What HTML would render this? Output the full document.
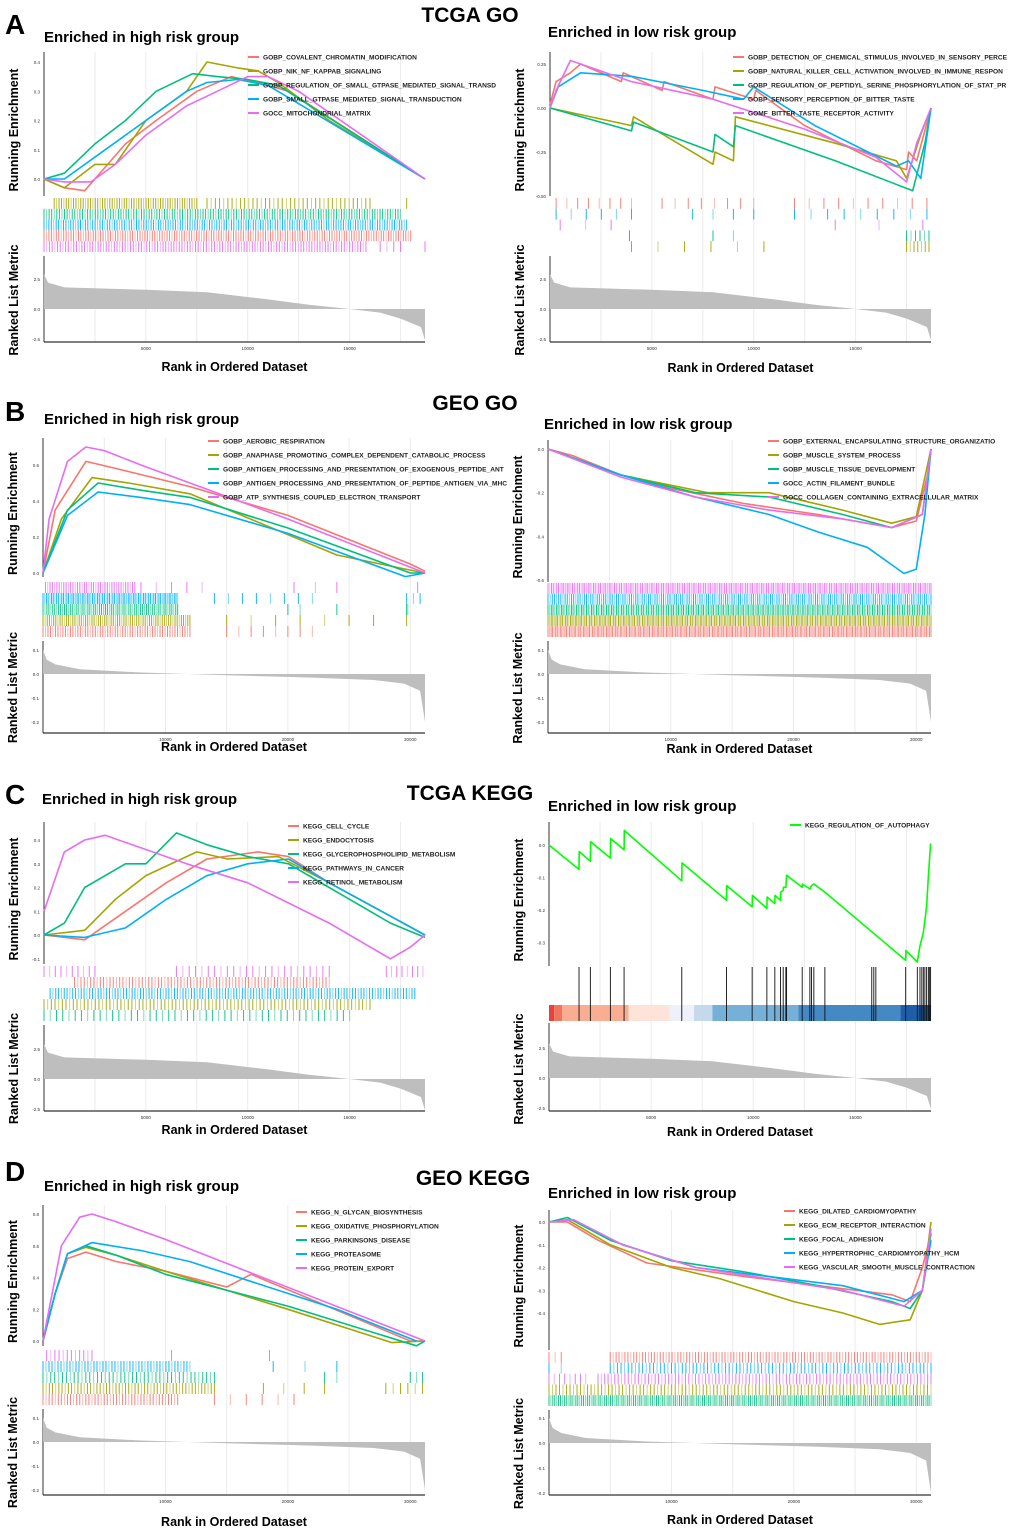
<!DOCTYPE html>
<html><head><meta charset="utf-8"><style>
html,body{margin:0;padding:0;background:#fff}
svg{display:block;font-family:"Liberation Sans",Arial,sans-serif}
</style></head><body>
<svg id="fig" width="1020" height="1530" viewBox="0 0 1020 1530" xmlns="http://www.w3.org/2000/svg">
<text x="5" y="34" font-size="28" font-weight="bold">A</text>
<text x="470" y="22" font-size="21" font-weight="bold" text-anchor="middle">TCGA GO</text>
<text x="5" y="421" font-size="28" font-weight="bold">B</text>
<text x="475" y="410" font-size="21" font-weight="bold" text-anchor="middle">GEO GO</text>
<text x="5" y="804" font-size="28" font-weight="bold">C</text>
<text x="470" y="800" font-size="21" font-weight="bold" text-anchor="middle">TCGA KEGG</text>
<text x="5" y="1181" font-size="28" font-weight="bold">D</text>
<text x="473" y="1185" font-size="21" font-weight="bold" text-anchor="middle">GEO KEGG</text>
</svg>
<script>
const COLORS={r:'#F8766D',o:'#A3A500',g:'#00BF7D',b:'#00B0F6',m:'#E76BF3',L:'#00FF00'};
// ---- ranked list metric data ----
const TCGA_metric=[[0,2.9],[200,2.2],[1000,1.8],[5000,1.6],[8000,1.4],[11000,0.8],[13000,0.35],[15000,0],[16500,-0.3],[17500,-0.8],[18500,-1.5],[18700,-2.6]];
const GEO_metric=[[0,0.1],[300,0.06],[1000,0.04],[3000,0.02],[8000,0.006],[15000,-0.005],[22000,-0.015],[27000,-0.025],[29500,-0.04],[30800,-0.07],[31200,-0.2]];
const TCGA_xticks=[5000,10000,15000];
const GEO_xticks=[10000,20000,30000];
// ---- A left ----
const A1_names=['GOBP_COVALENT_CHROMATIN_MODIFICATION','GOBP_NIK_NF_KAPPAB_SIGNALING','GOBP_REGULATION_OF_SMALL_GTPASE_MEDIATED_SIGNAL_TRANSD','GOBP_SMALL_GTPASE_MEDIATED_SIGNAL_TRANSDUCTION','GOCC_MITOCHONDRIAL_MATRIX'];
const A1_cols=['r','o','g','b','m'];
const A1_es=[
[[0,0],[1000,-0.03],[2000,-0.04],[2500,0],[4000,0.12],[5500,0.2],[7500,0.3],[9200,0.35],[10500,0.33],[12000,0.3],[18700,0]],
[[0,0],[1000,-0.03],[2500,0.05],[3500,0.05],[5000,0.2],[7000,0.3],[8000,0.4],[9500,0.38],[10500,0.37],[11500,0.33],[14000,0.2],[18700,0]],
[[0,0],[1000,0.02],[2500,0.12],[4000,0.2],[5500,0.3],[7300,0.36],[8500,0.35],[10000,0.34],[11500,0.32],[18700,0]],
[[0,0],[1000,0],[3000,0.1],[5000,0.2],[7000,0.3],[8000,0.33],[9500,0.34],[11000,0.32],[18700,0]],
[[0,0],[1000,-0.01],[2300,-0.01],[3500,0.05],[5000,0.15],[7000,0.25],[8500,0.3],[10000,0.35],[11000,0.35],[12500,0.3],[18700,0]]];
const A1_rows=['o','g','b','r','m'];
const A1_hits=[[[500,7500,60],[8000,16000,40],[17800,17800,1]],[[0,17500,140]],[[0,17800,150]],[[0,18000,150]],[[0,15800,120],[16500,17500,4],[18700,18700,1]]];
// ---- A right ----
const A2_names=['GOBP_DETECTION_OF_CHEMICAL_STIMULUS_INVOLVED_IN_SENSORY_PERCE','GOBP_NATURAL_KILLER_CELL_ACTIVATION_INVOLVED_IN_IMMUNE_RESPON','GOBP_REGULATION_OF_PEPTIDYL_SERINE_PHOSPHORYLATION_OF_STAT_PR','GOBP_SENSORY_PERCEPTION_OF_BITTER_TASTE','GOMF_BITTER_TASTE_RECEPTOR_ACTIVITY'];
const A2_cols=['r','o','g','b','m'];
const A2_es=[
[[0,0.02],[300,0.15],[1000,0.2],[1500,0.25],[3500,0.15],[3600,0.2],[5500,0.1],[5600,0.15],[8000,0.05],[8100,0.12],[10000,0.05],[10100,0.1],[12500,-0.1],[16000,-0.3],[17500,-0.35],[17600,-0.25],[18000,-0.3],[18700,0]],
[[0,0],[4000,-0.1],[4100,-0.05],[8000,-0.32],[8100,-0.25],[9000,-0.3],[9100,-0.05],[14000,-0.2],[17000,-0.3],[17500,-0.4],[18200,-0.15],[18700,0]],
[[0,0],[4000,-0.13],[4100,-0.08],[8000,-0.25],[8100,-0.15],[9000,-0.22],[9100,-0.1],[14000,-0.3],[17800,-0.47],[18400,-0.2],[18700,0]],
[[0,0],[400,0.12],[1500,0.2],[4000,0.18],[7500,0.1],[9500,0.05],[10000,0.12],[13000,-0.1],[17000,-0.33],[17600,-0.3],[18200,-0.4],[18700,0]],
[[0,0],[300,0.1],[1000,0.27],[4000,0.15],[8000,0.05],[12500,-0.12],[16000,-0.28],[17500,-0.42],[18000,-0.2],[18700,0]]];
const A2_rows=['r','b','m','g','o'];
const A2_hits=[[[300,4000,8],[5500,10000,8],[12000,18500,10]],[[300,4000,6],[7000,10000,4],[12000,18500,9]],[[500,3000,3],[14000,18300,3]],[[3900,3900,1],[8000,9000,2],[17500,18600,6]],[[4000,10500,6],[17500,18600,7]]];
// ---- B left ----
const B1_names=['GOBP_AEROBIC_RESPIRATION','GOBP_ANAPHASE_PROMOTING_COMPLEX_DEPENDENT_CATABOLIC_PROCESS','GOBP_ANTIGEN_PROCESSING_AND_PRESENTATION_OF_EXOGENOUS_PEPTIDE_ANT','GOBP_ANTIGEN_PROCESSING_AND_PRESENTATION_OF_PEPTIDE_ANTIGEN_VIA_MHC','GOBP_ATP_SYNTHESIS_COUPLED_ELECTRON_TRANSPORT'];
const B1_cols=['r','o','g','b','m'];
const B1_es=[
[[0,0],[1000,0.35],[3500,0.62],[6000,0.58],[12000,0.48],[20000,0.32],[30000,0.05],[31200,0.01]],
[[0,0],[1500,0.3],[4000,0.53],[7000,0.5],[12000,0.44],[24000,0.1],[29700,0.02],[31200,0]],
[[0,0],[2000,0.35],[4500,0.5],[8000,0.46],[12000,0.42],[20000,0.25],[30000,0.0],[31200,0]],
[[0,0],[2000,0.32],[4500,0.45],[8000,0.42],[12000,0.38],[20000,0.22],[29600,-0.02],[31200,0]],
[[0,0],[500,0.3],[2000,0.62],[3500,0.7],[5000,0.68],[8000,0.6],[12000,0.5],[20000,0.3],[31200,0]]];
const B1_rows=['m','b','g','o','r'];
const B1_hits=[[[200,7500,40],[8000,13000,5],[20500,24000,3],[30600,30600,1]],[[0,11000,80],[14000,22000,8],[29700,30800,3]],[[0,11000,70],[20000,21000,2],[24000,24000,1],[29700,29800,2]],[[0,12000,70],[15000,27000,7],[29700,29700,1]],[[0,12000,60],[15000,22000,8]]];
// ---- B right ----
const B2_names=['GOBP_EXTERNAL_ENCAPSULATING_STRUCTURE_ORGANIZATIO','GOBP_MUSCLE_SYSTEM_PROCESS','GOBP_MUSCLE_TISSUE_DEVELOPMENT','GOCC_ACTIN_FILAMENT_BUNDLE','GOCC_COLLAGEN_CONTAINING_EXTRACELLULAR_MATRIX'];
const B2_cols=['r','o','g','b','m'];
const B2_es=[
[[0,0],[2000,-0.03],[6000,-0.12],[10000,-0.18],[16000,-0.25],[22000,-0.3],[28000,-0.36],[30000,-0.33],[31000,-0.1],[31200,0]],
[[0,0],[6000,-0.12],[13000,-0.2],[18000,-0.2],[24000,-0.28],[28000,-0.34],[30000,-0.31],[31200,0]],
[[0,0],[6000,-0.12],[12000,-0.2],[18000,-0.22],[24000,-0.3],[28000,-0.36],[30500,-0.3],[31200,0]],
[[0,0],[6000,-0.12],[12000,-0.22],[18000,-0.3],[22000,-0.38],[26000,-0.45],[29000,-0.57],[30000,-0.55],[30700,-0.3],[31200,0]],
[[0,0],[6000,-0.13],[12000,-0.22],[18000,-0.28],[24000,-0.32],[28000,-0.36],[30500,-0.3],[31200,0]]];
const B2_rows=['m','b','g','o','r'];
const B2_hits=[[[0,31200,220]],[[0,31200,180]],[[0,31200,230]],[[0,31200,240]],[[0,31200,250]]];
// ---- C left ----
const C1_names=['KEGG_CELL_CYCLE','KEGG_ENDOCYTOSIS','KEGG_GLYCEROPHOSPHOLIPID_METABOLISM','KEGG_PATHWAYS_IN_CANCER','KEGG_RETINOL_METABOLISM'];
const C1_cols=['r','o','g','b','m'];
const C1_es=[
[[0,0],[2000,-0.02],[4000,0.1],[6000,0.22],[8000,0.32],[10500,0.35],[12000,0.33],[14000,0.22],[18700,0]],
[[0,0],[2000,0.02],[3500,0.15],[5000,0.25],[7500,0.35],[9000,0.32],[11500,0.33],[14000,0.22],[18700,0]],
[[0,0],[1000,0.05],[2000,0.2],[4000,0.3],[5000,0.3],[6500,0.43],[8000,0.38],[10000,0.33],[12000,0.3],[14000,0.2],[17000,0.05],[18700,-0.01]],
[[0,0],[2000,-0.01],[4000,0.03],[6000,0.15],[8000,0.25],[10000,0.3],[12000,0.32],[14000,0.22],[18700,0]],
[[0,0.1],[1000,0.35],[2000,0.4],[3000,0.42],[7000,0.3],[10000,0.22],[14000,0.05],[17000,-0.1],[18000,-0.05],[18700,0]]];
const C1_rows=['m','r','b','o','g'];
const C1_hits=[[[0,2500,10],[6500,14000,25],[16800,18600,8]],[[1500,14000,80]],[[300,18200,130]],[[0,16000,90]],[[0,15000,50]]];
// ---- C right ----
const C2_names=['KEGG_REGULATION_OF_AUTOPHAGY'];
const C2_cols=['L'];
const C2_es=[[[0,0],[1470,-0.075],[1480,-0.02],[2025,-0.05],[2035,0.01],[3005,-0.04],[3015,0.02],[3675,-0.015],[3685,0.045],[6500,-0.11],[6510,-0.055],[8690,-0.17],[8700,-0.125],[9945,-0.19],[9955,-0.155],[10665,-0.195],[10675,-0.16],[11055,-0.18],[11065,-0.155],[11335,-0.17],[11345,-0.145],[11465,-0.14],[11475,-0.13],[11595,-0.13],[11630,-0.093],[12395,-0.13],[12405,-0.12],[12770,-0.135],[12850,-0.125],[12965,-0.12],[13505,-0.145],[17460,-0.355],[17470,-0.325],[18030,-0.36],[18160,-0.31],[18325,-0.27],[18485,-0.19],[18570,-0.1],[18620,-0.05],[18680,0.005]]];
const C2_hitranks=[1470,2025,3005,3675,6500,8690,9945,10665,11055,11335,11465,11595,11630,12395,12770,12850,12965,13505,15800,15900,16000,17460,18030,18160,18250,18325,18400,18485,18570,18620,18680];
const C2_heat=[[0,250,'#e8423a'],[250,650,'#f07560'],[650,3900,'#f9ad92'],[3900,5900,'#fde3d8'],[5900,7100,'#eef1f9'],[7100,8000,'#c5d9eb'],[8000,12200,'#76b0d9'],[12200,17200,'#4488c4'],[17200,18700,'#1e5ea8']];
// ---- D left ----
const D1_names=['KEGG_N_GLYCAN_BIOSYNTHESIS','KEGG_OXIDATIVE_PHOSPHORYLATION','KEGG_PARKINSONS_DISEASE','KEGG_PROTEASOME','KEGG_PROTEIN_EXPORT'];
const D1_cols=['r','o','g','b','m'];
const D1_es=[
[[0,0],[1000,0.3],[2000,0.52],[3500,0.56],[6000,0.5],[10000,0.44],[15000,0.34],[17000,0.42],[30000,0.0],[31200,0]],
[[0,0],[1000,0.3],[2000,0.55],[3500,0.59],[6000,0.54],[10000,0.44],[20000,0.2],[28500,-0.01],[31200,0]],
[[0,0],[1000,0.3],[2000,0.55],[3500,0.6],[6000,0.54],[10000,0.42],[20000,0.22],[30500,-0.03],[31200,0]],
[[0,0],[1000,0.3],[2000,0.55],[4000,0.62],[8000,0.57],[12000,0.5],[24000,0.2],[30500,0.0]],
[[0,0],[500,0.2],[1500,0.6],[3000,0.78],[4000,0.8],[6000,0.75],[10000,0.64],[31200,0]]];
const D1_rows=['m','b','g','o','r'];
const D1_hits=[[[300,4000,12],[10500,10500,1],[18500,18500,1]],[[0,12000,50],[18800,24000,3]],[[0,14000,45],[23000,24000,2],[30000,31000,3]],[[0,14000,55],[18000,23000,4],[28000,31000,6]],[[0,11000,45],[14000,20500,6]]];
// ---- D right ----
const D2_names=['KEGG_DILATED_CARDIOMYOPATHY','KEGG_ECM_RECEPTOR_INTERACTION','KEGG_FOCAL_ADHESION','KEGG_HYPERTROPHIC_CARDIOMYOPATHY_HCM','KEGG_VASCULAR_SMOOTH_MUSCLE_CONTRACTION'];
const D2_cols=['r','o','g','b','m'];
const D2_es=[
[[0,0],[1500,0.0],[4000,-0.08],[8000,-0.18],[12000,-0.21],[16000,-0.24],[22000,-0.28],[28000,-0.32],[29500,-0.35],[30500,-0.2],[31200,-0.05]],
[[0,0],[1500,0.01],[5000,-0.1],[10000,-0.2],[14000,-0.25],[20000,-0.35],[24000,-0.4],[27000,-0.45],[29500,-0.43],[30500,-0.3],[31200,0]],
[[0,0],[1500,0.02],[5000,-0.08],[10000,-0.17],[16000,-0.22],[22000,-0.28],[28000,-0.35],[29500,-0.38],[30500,-0.3],[31200,-0.05]],
[[0,0],[2000,0.01],[6000,-0.1],[12000,-0.2],[18000,-0.24],[24000,-0.28],[29000,-0.35],[30500,-0.3],[31200,-0.08]],
[[0,0],[2000,0.01],[6000,-0.1],[12000,-0.2],[18000,-0.25],[24000,-0.3],[29000,-0.37],[30500,-0.3],[31200,-0.03]]];
const D2_rows=['r','b','m','o','g'];
const D2_hits=[[[0,1000,3],[5000,31200,110]],[[0,1000,2],[5000,31200,90]],[[0,3000,8],[4000,31200,100]],[[0,31200,110]],[[0,31200,200]]];

// ---- layout (pixel geometry, not data) ----
const PANELS=[
 {id:'a-high',x0:44,x1:425,max:18700,title:'Enriched in high risk group',ty:42,tx:44,esTop:52,esBot:196,es:[0,179,0.4,62],esT:[0,0.1,0.2,0.3,0.4],hitTop:198,hitH:10.8,rkBot:342,rk:[0,309,2.5,279],rkT:[2.5,0,-2.5],xt:TCGA_xticks,xlab:371,leg:[248,57],names:A1_names,cols:A1_cols,esd:A1_es,rows:A1_rows,hits:A1_hits,metric:TCGA_metric,dec:1},
 {id:'a-low',x0:550,x1:931,max:18700,title:'Enriched in low risk group',ty:37,tx:548,esTop:52,esBot:196,es:[0.25,64,-0.5,196],esT:[0.25,0,-0.25,-0.5],hitTop:198,hitH:10.8,rkBot:342,rk:[0,309,2.5,279],rkT:[2.5,0,-2.5],xt:TCGA_xticks,xlab:372,leg:[733,57],names:A2_names,cols:A2_cols,esd:A2_es,rows:A2_rows,hits:A2_hits,metric:TCGA_metric,dec:2},
 {id:'b-high',x0:43,x1:425,max:31200,title:'Enriched in high risk group',ty:424,tx:44,esTop:438,esBot:577,es:[0,573,0.6,465],esT:[0,0.2,0.4,0.6],hitTop:582,hitH:11,rkBot:733,rk:[0,674,0.1,650],rkT:[0.1,0,-0.1,-0.2],xt:GEO_xticks,xlab:751,leg:[208,441],names:B1_names,cols:B1_cols,esd:B1_es,rows:B1_rows,hits:B1_hits,metric:GEO_metric,dec:1},
 {id:'b-low',x0:548,x1:931,max:31200,title:'Enriched in low risk group',ty:429,tx:544,esTop:440,esBot:582,es:[0,449,-0.6,580],esT:[0,-0.2,-0.4,-0.6],hitTop:583,hitH:10.8,rkBot:733,rk:[0,674,0.1,650],rkT:[0.1,0,-0.1,-0.2],xt:GEO_xticks,xlab:753,leg:[768,441],names:B2_names,cols:B2_cols,esd:B2_es,rows:B2_rows,hits:B2_hits,metric:GEO_metric,dec:1},
 {id:'c-high',x0:44,x1:425,max:18700,title:'Enriched in high risk group',ty:804,tx:42,esTop:822,esBot:964,es:[0,935,0.4,840],esT:[-0.1,0,0.1,0.2,0.3,0.4],hitTop:966,hitH:11,rkBot:1111,rk:[0,1079,2.5,1049],rkT:[2.5,0,-2.5],xt:TCGA_xticks,xlab:1134,leg:[288,826],names:C1_names,cols:C1_cols,esd:C1_es,rows:C1_rows,hits:C1_hits,metric:TCGA_metric,dec:1},
 {id:'c-low',x0:549,x1:931,max:18700,title:'Enriched in low risk group',ty:811,tx:548,esTop:822,esBot:966,es:[0,845,-0.1,877.5],esT:[0,-0.1,-0.2,-0.3],hitTop:967,hitH:0,rkBot:1111,rk:[0,1078,2.5,1048],rkT:[2.5,0,-2.5],xt:TCGA_xticks,xlab:1136,leg:[790,825],names:C2_names,cols:C2_cols,esd:C2_es,rows:[],hits:[],metric:TCGA_metric,dec:1,kegg1:true},
 {id:'d-high',x0:43,x1:425,max:31200,title:'Enriched in high risk group',ty:1191,tx:44,esTop:1205,esBot:1346,es:[0,1341,0.8,1214],esT:[0,0.2,0.4,0.6,0.8],hitTop:1350,hitH:11,rkBot:1495,rk:[0,1442,0.1,1418],rkT:[0.1,0,-0.1,-0.2],xt:GEO_xticks,xlab:1526,leg:[296,1212],names:D1_names,cols:D1_cols,esd:D1_es,rows:D1_rows,hits:D1_hits,metric:GEO_metric,dec:1},
 {id:'d-low',x0:549,x1:931,max:31200,title:'Enriched in low risk group',ty:1198,tx:548,esTop:1210,esBot:1350,es:[0,1222,-0.4,1313],esT:[0,-0.1,-0.2,-0.3,-0.4],hitTop:1352,hitH:10.8,rkBot:1495,rk:[0,1443,0.1,1418],rkT:[0.1,0,-0.1,-0.2],xt:GEO_xticks,xlab:1524,leg:[784,1211],names:D2_names,cols:D2_cols,esd:D2_es,rows:D2_rows,hits:D2_hits,metric:GEO_metric,dec:1}
];
const NS='http://www.w3.org/2000/svg';
const svg=document.getElementById('fig');
function mk(tag,attrs,parent){const e=document.createElementNS(NS,tag);for(const k in attrs)e.setAttribute(k,attrs[k]);(parent||svg).appendChild(e);return e;}
function lin(a){return v=>a[1]+(v-a[0])*(a[3]-a[1])/(a[2]-a[0]);}
PANELS.forEach(p=>{
  const g=mk('g',{});
  
  
  const X=r=>p.x0+r/p.max*(p.x1-p.x0);
  const Y=lin(p.es), R=lin(p.rk);
  const rkTop=p.kegg1?1023:p.hitTop+5*p.hitH+4;
  const step=p.xt[0]/2;
  for(let r=step;r<p.max;r+=step){const gl=mk('line',{x1:X(r),x2:X(r),y1:p.esTop,y2:p.rkBot,stroke:'#ebebeb','stroke-width':1},g);}
  const t=mk('text',{x:p.tx,y:p.ty,'font-size':15,'font-weight':'bold'},g);t.textContent=p.title;
  
  const ylab1=mk('text',{transform:`translate(${p.x0-26},${(p.esTop+p.esBot)/2+6}) rotate(-90)`,'font-size':12.5,'font-weight':'bold','text-anchor':'middle'},g);ylab1.textContent='Running Enrichment';
  
  const ylab2=mk('text',{transform:`translate(${p.x0-26},${(p.hitTop+p.rkBot)/2+30}) rotate(-90)`,'font-size':12.5,'font-weight':'bold','text-anchor':'middle'},g);ylab2.textContent='Ranked List Metric';
  
  const xl=mk('text',{x:(p.x0+p.x1)/2,y:p.xlab,'font-size':12.5,'font-weight':'bold','text-anchor':'middle'},g);xl.textContent='Rank in Ordered Dataset';
  
  const ax=mk('line',{x1:p.x0,x2:p.x0,y1:p.esTop,y2:p.esBot,stroke:'#333','stroke-width':1},g);
  const ax2=mk('line',{x1:p.x0,x2:p.x0,y1:rkTop,y2:p.rkBot,stroke:'#333','stroke-width':1},g);
  const ax3=mk('line',{x1:p.x0,x2:p.x1,y1:p.rkBot,y2:p.rkBot,stroke:'#333','stroke-width':1.2},g);
  p.esT.forEach(v=>{const tt=mk('text',{x:p.x0-4,y:Y(v)+2,'font-size':4.5,'text-anchor':'end',fill:'#333'},g);tt.textContent=v.toFixed(p.dec);});
  p.rkT.forEach(v=>{const tt=mk('text',{x:p.x0-4,y:R(v)+2,'font-size':4.5,'text-anchor':'end',fill:'#333'},g);tt.textContent=v.toFixed(1);});
  p.xt.forEach(v=>{const tt=mk('text',{x:X(v),y:p.rkBot+8,'font-size':4.5,'text-anchor':'middle',fill:'#333'},g);tt.textContent=v;});
  let d=`M${X(0)},${R(0)}`;p.metric.forEach(([r,v])=>d+=`L${X(r)},${R(v)}`);d+=`L${X(p.max)},${R(0)}Z`;
  const ar=mk('path',{d:d,fill:'#bebebe'},g);
  p.rows.forEach((c,i)=>{
    const y0=p.hitTop+i*p.hitH;
    p.hits[i].forEach(([s,e,n])=>{
      for(let k=0;k<n;k++){const r=n==1?s:s+(e-s)*k/(n-1);
        const hl=mk('line',{x1:X(r),x2:X(r),y1:y0,y2:y0+p.hitH,stroke:COLORS[c],'stroke-width':1,opacity:(k%3==1?0.5:0.9)},g);
        }
    });
  });
  if(p.kegg1){
    C2_heat.forEach(([s,e,col])=>{const hr=mk('rect',{x:X(s),y:1005,width:X(e)-X(s),height:16,fill:col},g);});
    C2_hitranks.forEach(r=>{const hl=mk('line',{x1:X(r),x2:X(r),y1:967,y2:1021,stroke:'#111','stroke-width':0.9},g);});
  }
  p.esd.forEach((s,i)=>{
    const pts=s.map(([r,v])=>X(r).toFixed(1)+','+Y(v).toFixed(1)).join(' ');
    const pl=mk('polyline',{points:pts,fill:'none',stroke:COLORS[p.cols[i]],'stroke-width':1.6,'stroke-linejoin':'round'},g);
    
    
  });
  p.names.forEach((n,i)=>{
    const ly=p.leg[1]+i*14;
    const ll=mk('line',{x1:p.leg[0],x2:p.leg[0]+11,y1:ly,y2:ly,stroke:COLORS[p.cols[i]],'stroke-width':2},g);
    
    const lt=mk('text',{x:p.leg[0]+15,y:ly+2.5,'font-size':6.6,'font-weight':'bold',fill:'#222'},g);lt.textContent=n;
    
  });
});
</script>
</body></html>
